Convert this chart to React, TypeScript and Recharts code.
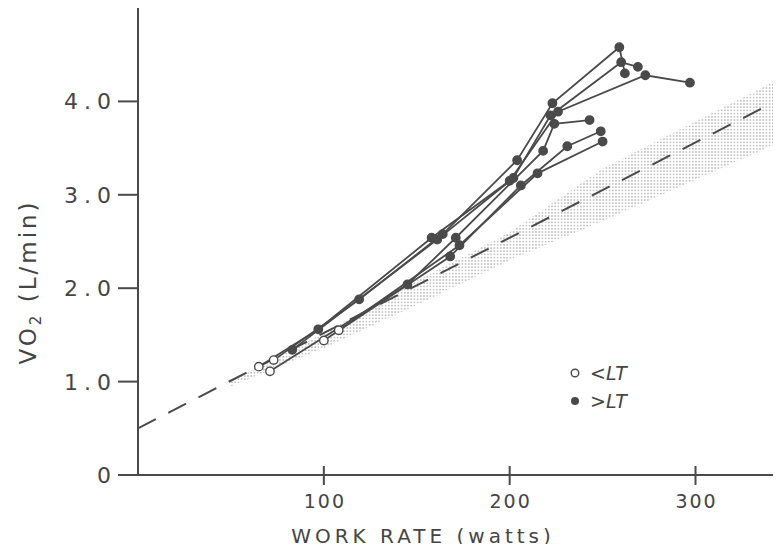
import React from 'react';
import { ComposedChart, Line, Area, XAxis, YAxis } from 'recharts';

// tick values
const xTicks = [100, 200, 300];
const yTicks = [0, 1, 2, 3, 4];

// one array per subject: [work rate (W), VO2 (L/min)]
const subject1 = [[73, 1.23], [119, 1.88], [164, 2.58], [204, 3.37], [223, 3.98], [259, 4.58], [262, 4.3]];
const subject2 = [[65, 1.16], [97, 1.56], [158, 2.54], [200, 3.15], [226, 3.89], [273, 4.28], [297, 4.2]];
const subject3 = [[100, 1.44], [168, 2.34], [206, 3.1], [231, 3.52], [249, 3.68]];
const subject4 = [[108, 1.55], [173, 2.46], [215, 3.23], [250, 3.57]];
const subject5 = [[71, 1.11], [145, 2.04], [171, 2.54], [218, 3.47], [224, 3.76], [243, 3.8]];
const subject6 = [[83, 1.34], [161, 2.52], [202, 3.18], [222, 3.85], [260, 4.42], [269, 4.37]];

// how many of each subject's first points are below the lactate threshold
const belowLT = [1, 1, 1, 1, 1, 0];

// dashed reference line and shaded band
const refLine = [[0, 0.5], [346, 4.03]];
const bandWatts = [50, 100, 150, 200, 250, 346];
const bandLow = [0.95, 1.36, 1.82, 2.3, 2.72, 3.57];
const bandHigh = [1.0, 1.52, 2.08, 2.6, 3.28, 4.25];

const INK = '#4a4a4a';
const TEXT = '#454545';
const FONT = '"DejaVu Sans", sans-serif';

const subjects = [subject1, subject2, subject3, subject4, subject5, subject6];
const subjectData = subjects.map((s, i) =>
  s.map(([x, y], j) => ({ x, y, open: j < belowLT[i] }))
);
const refData = refLine.map(([x, y]) => ({ x, y }));
const bandData = bandWatts.map((x, i) => ({ x, range: [bandLow[i], bandHigh[i]] }));

const renderDot = (p: any) => {
  if (p.cx == null || p.cy == null) return <g key={`d-${p.index}`} />;
  return (
    <circle
      key={`d-${p.index}`}
      cx={p.cx}
      cy={p.cy}
      r={4.2}
      fill={p.payload.open ? '#fff' : INK}
      stroke={INK}
      strokeWidth={1.4}
    />
  );
};

// x ticks cross the axis line
const XTick = (props: any) => {
  const { x, y, payload } = props;
  return (
    <g>
      <path d={`M${x},${y - 9}L${x},${y + 10}`} stroke={INK} strokeWidth={2} />
      <text x={x + 1} y={y + 33} textAnchor="middle" fill={TEXT} fontFamily={FONT} fontSize={19} letterSpacing={2}>
        {payload.value}
      </text>
    </g>
  );
};

const YTick = (props: any) => {
  const { x, y, payload } = props;
  return (
    <g>
      <path d={`M${x - 20},${y}L${x},${y}`} stroke={INK} strokeWidth={2} />
      <text x={x - 21} y={y + 8} textAnchor="end" fill={TEXT} fontFamily={FONT} fontSize={22} letterSpacing={6}>
        {payload.value === 0 ? '0' : payload.value.toFixed(1)}
      </text>
    </g>
  );
};

const YLabel = () => (
  <text
    transform="translate(36,282) rotate(-90)"
    textAnchor="middle"
    fill={TEXT}
    fontFamily={FONT}
    fontSize={23}
    letterSpacing={3}
  >
    VO<tspan fontSize={15} dy={5}>2</tspan>
    <tspan dy={-5}> (L/min)</tspan>
  </text>
);

const XLabel = () => (
  <text x={423} y={543} textAnchor="middle" fill={TEXT} fontFamily={FONT} fontSize={20} letterSpacing={4}>
    WORK RATE (watts)
  </text>
);

export default function App() {
  return (
    <div style={{ position: 'relative', width: 781, height: 552, margin: -8, background: '#fff' }}>
      <ComposedChart width={781} height={552} margin={{ top: 8, right: 0, bottom: 0, left: 0 }}>
        <defs>
          <pattern id="stipple" width={3.2} height={3.2} patternUnits="userSpaceOnUse">
            <circle cx={1.6} cy={1.6} r={0.75} fill="#a6a6a6" />
          </pattern>
        </defs>
        <XAxis
          type="number"
          dataKey="x"
          domain={[0, 346]}
          ticks={xTicks}
          allowDataOverflow
          height={77}
          axisLine={{ stroke: INK, strokeWidth: 2 }}
          tickLine={false}
          tickSize={0}
          tickMargin={0}
          tick={<XTick />}
          label={<XLabel />}
        />
        <YAxis
          type="number"
          domain={[0, 5]}
          ticks={yTicks}
          width={138}
          axisLine={{ stroke: INK, strokeWidth: 2 }}
          tickLine={false}
          tickSize={0}
          tickMargin={0}
          tick={<YTick />}
          label={<YLabel />}
        />
        <Area
          data={bandData}
          dataKey="range"
          type="linear"
          stroke="none"
          fill="url(#stipple)"
          fillOpacity={1}
          isAnimationActive={false}
        />
        <Line
          data={refData}
          dataKey="y"
          type="linear"
          stroke={INK}
          strokeWidth={2}
          strokeDasharray="20 14"
          dot={false}
          activeDot={false}
          isAnimationActive={false}
        />
        {subjectData.map((d, i) => (
          <Line
            key={i}
            data={d}
            dataKey="y"
            type="linear"
            stroke={INK}
            strokeWidth={1.8}
            dot={renderDot}
            activeDot={false}
            isAnimationActive={false}
          />
        ))}
      </ComposedChart>
      <svg width={781} height={552} style={{ position: 'absolute', left: 0, top: 0, pointerEvents: 'none' }}>
        <circle cx={575} cy={373} r={3.8} fill="#fff" stroke={INK} strokeWidth={1.4} />
        <text x={590} y={380} fill={TEXT} fontFamily={FONT} fontSize={19}>
          {'<'}
          <tspan fontStyle="italic">LT</tspan>
        </text>
        <circle cx={575} cy={401} r={4} fill={INK} />
        <text x={590} y={408} fill={TEXT} fontFamily={FONT} fontSize={19}>
          {'>'}
          <tspan fontStyle="italic">LT</tspan>
        </text>
      </svg>
    </div>
  );
}
